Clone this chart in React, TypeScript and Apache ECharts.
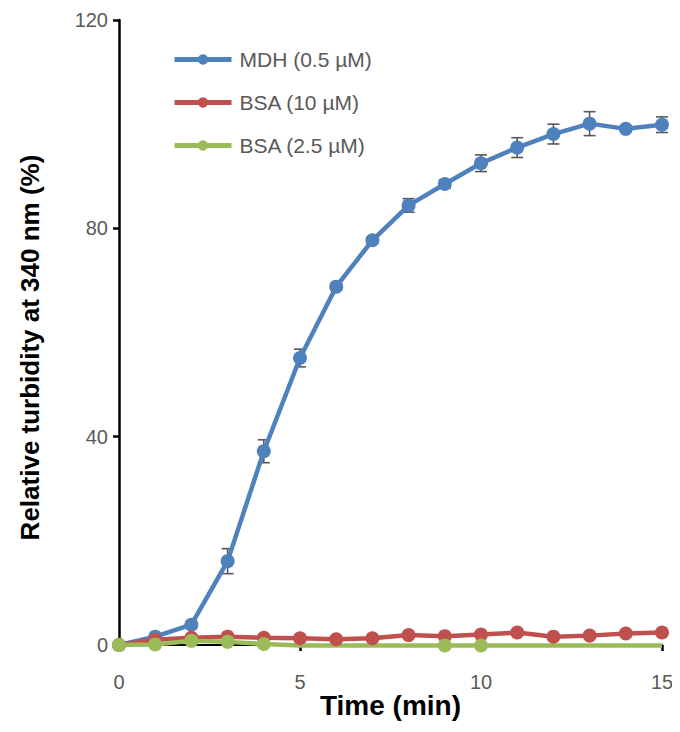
import React, { useEffect, useRef } from "react";
import * as echarts from "echarts";

const times = [0, 1, 2, 3, 4, 5, 6, 7, 8, 9, 10, 11, 12, 13, 14, 15];
const mdh = [0, 1.6, 3.9, 16.1, 37.2, 55.1, 68.8, 77.7, 84.4, 88.5, 92.5, 95.5, 98.1, 100.1, 99.1, 99.9];
const mdhErr = [0, 0.3, 0.5, 2.4, 2.2, 1.7, 0.6, 0.6, 1.3, 0.8, 1.6, 1.9, 1.9, 2.3, 0.5, 1.5];
const bsa10 = [0, 1.0, 1.4, 1.6, 1.4, 1.3, 1.1, 1.3, 1.9, 1.7, 2.0, 2.4, 1.6, 1.8, 2.2, 2.4];
const bsa25 = [0, 0.1, 0.8, 0.6, 0.2, -0.1, -0.1, -0.1, -0.1, -0.1, -0.1, -0.1, -0.1, -0.1, -0.1, -0.1];
const bsa25Marked = [true, true, true, true, true, false, false, false, false, true, true, false, false, false, false, false];
const xTicks = [0, 5, 10, 15];
const seriesNames = ["MDH (0.5 µM)", "BSA (10 µM)", "BSA (2.5 µM)"];

const FONT = "'Liberation Sans', Arial, sans-serif";

export default function App() {
  const ref = useRef<HTMLDivElement>(null);
  useEffect(() => {
    if (!ref.current) return;
    const chart = echarts.init(ref.current, undefined, { renderer: "svg" });
    const lineSeries = (name: string, color: string, data: any[]) => ({
      name,
      type: "line",
      data,
      symbol: "circle",
      symbolSize: 14,
      clip: false,
      lineStyle: { color, width: 4.5 },
      itemStyle: { color },
      z: 3,
    });
    chart.setOption({
      animation: false,
      textStyle: { fontFamily: FONT },
      grid: { left: 119, right: 18, top: 20, bottom: 87 },
      legend: {
        orient: "vertical",
        left: 167,
        top: 44,
        itemWidth: 57,
        itemHeight: 13,
        itemGap: 22,
        data: seriesNames,
        lineStyle: { width: 5 },
        textStyle: { fontSize: 21, color: "#595959", fontFamily: FONT, padding: [0, 0, 0, 3] },
      },
      xAxis: {
        type: "value",
        min: 0,
        max: 15,
        interval: 5,
        name: "Time (min)",
        nameLocation: "middle",
        nameGap: 46,
        nameMoveOverlap: false,
        nameTextStyle: { fontSize: 28, fontWeight: "bold", color: "#000", fontFamily: FONT },
        axisLine: { onZero: false, lineStyle: { color: "#000", width: 2 } },
        axisTick: { show: true, length: 6, lineStyle: { color: "#000", width: 2.5 } },
        axisLabel: {
          margin: 27,
          fontSize: 20,
          color: "#595959",
          fontFamily: FONT,
          customValues: xTicks,
        },
        splitLine: { show: false },
      },
      yAxis: {
        type: "value",
        min: 0,
        max: 120,
        interval: 40,
        name: "Relative turbidity at 340 nm (%)",
        nameLocation: "middle",
        nameGap: 76,
        nameMoveOverlap: false,
        nameTextStyle: {
          fontSize: 26,
          fontWeight: "bold",
          color: "#000",
          fontFamily: FONT,
          padding: [0, 30, 0, 0],
        },
        axisLine: { show: true, lineStyle: { color: "#000", width: 2.5 } },
        axisTick: { show: true, length: 6, lineStyle: { color: "#000", width: 2.5 } },
        axisLabel: { margin: 11, fontSize: 20, color: "#595959", fontFamily: FONT },
        splitLine: { show: false },
      },
      series: [
        {
          type: "custom",
          name: "errors",
          z: 2,
          silent: true,
          data: times.map((t, i) => [t, mdh[i] - mdhErr[i], mdh[i] + mdhErr[i]]),
          renderItem: (params: any, api: any) => {
            const x = api.value(0);
            const lo = api.coord([x, api.value(1)]);
            const hi = api.coord([x, api.value(2)]);
            const w = 6;
            const style = { stroke: "#595959", lineWidth: 1.6 };
            return {
              type: "group",
              children: [
                { type: "line", shape: { x1: lo[0], y1: lo[1], x2: hi[0], y2: hi[1] }, style },
                { type: "line", shape: { x1: lo[0] - w, y1: lo[1], x2: lo[0] + w, y2: lo[1] }, style },
                { type: "line", shape: { x1: hi[0] - w, y1: hi[1], x2: hi[0] + w, y2: hi[1] }, style },
              ],
            };
          },
        },
        lineSeries(seriesNames[0], "#4F81BD", times.map((t, i) => [t, mdh[i]])),
        lineSeries(seriesNames[1], "#C0504D", times.map((t, i) => [t, bsa10[i]])),
        lineSeries(
          seriesNames[2],
          "#9BBB59",
          times.map((t, i) => (bsa25Marked[i] ? [t, bsa25[i]] : { value: [t, bsa25[i]], symbol: "none" }))
        ),
      ],
    });
    return () => chart.dispose();
  }, []);
  return <div ref={ref} style={{ width: 680, height: 732, margin: -8 }} />;
}
